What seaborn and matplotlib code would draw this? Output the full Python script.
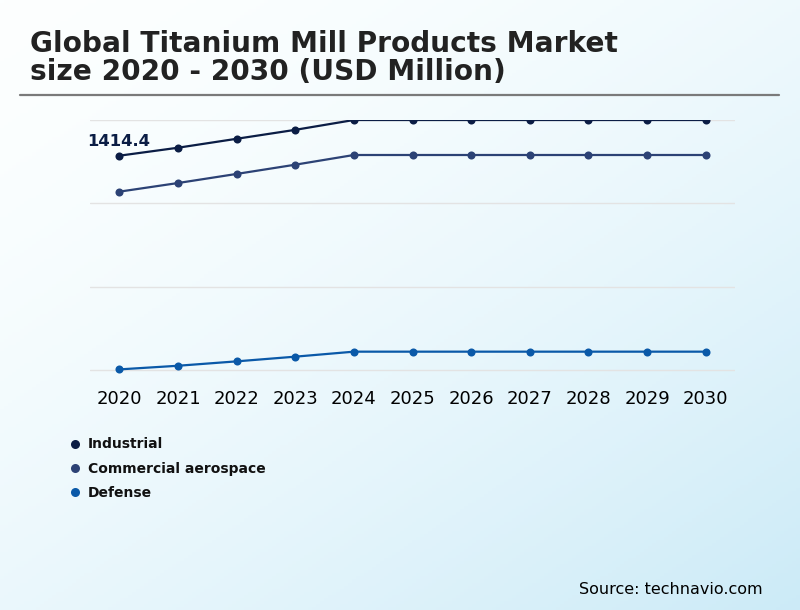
import numpy as np
import pandas as pd
import matplotlib
matplotlib.use("Agg")
import matplotlib.pyplot as plt
import seaborn as sns
from matplotlib.lines import Line2D

# -------------------------------------------------------
# Data (USD Million)
# -------------------------------------------------------

years = [2020, 2021, 2022, 2023, 2024, 2025, 2026, 2027, 2028, 2029, 2030]

industrial = [1414.4, 1467, 1526, 1585, 1650, 1650, 1650, 1650, 1650, 1650, 1650]
commercial_aerospace = [1177, 1234, 1294, 1355, 1419, 1419, 1419, 1419, 1419, 1419, 1419]
defense = [4, 28, 57, 88, 121, 121, 121, 121, 121, 121, 121]

segments = ["Industrial", "Commercial aerospace", "Defense"]
colors = ["#0b1d45", "#2c4275", "#0a59a8"]

df = pd.DataFrame({
    "year": years * 3,
    "value": industrial + commercial_aerospace + defense,
    "segment": [s for s in segments for _ in years],
})

# -------------------------------------------------------
# Figure
# -------------------------------------------------------

sns.set_theme(style="white")
plt.rcParams["font.family"] = ["DejaVu Sans"]

fig = plt.figure(figsize=(8, 6.1), dpi=100)

# gradient background: white top-left to light blue bottom-right
bg = fig.add_axes([0, 0, 1, 1], zorder=-10)
gx, gy = np.meshgrid(np.linspace(0, 1, 200), np.linspace(0, 1, 200))
t = np.clip((gx * 0.6 + gy * 0.7) / 1.3, 0, 1) ** 1.6
c0 = np.array([0.99, 1.0, 1.0])
c1 = np.array([0.80, 0.92, 0.97])
img = c0[None, None, :] * (1 - t[..., None]) + c1[None, None, :] * t[..., None]
bg.imshow(img, aspect="auto", extent=[0, 1, 0, 1], origin="upper")
bg.axis("off")

ax = fig.add_axes([90 / 800, 1 - 380 / 610, 645 / 800, 260 / 610])
ax.patch.set_alpha(0)

sns.lineplot(
    data=df,
    x="year",
    y="value",
    hue="segment",
    hue_order=segments,
    palette=colors,
    marker="o",
    markersize=5.8,
    markeredgewidth=0,
    linewidth=1.6,
    legend=False,
    ax=ax,
)

ax.set_xlim(2019.5, 2030.5)
ax.set_ylim(-66, 1650)
ax.set_yticks([0, 550, 1100, 1650])
ax.set_yticklabels([])
ax.set_xticks(years)
ax.set_xticklabels([str(y) for y in years], fontsize=13, color="black")
ax.tick_params(axis="x", length=0, pad=7.5)
ax.tick_params(axis="y", length=0)
ax.set_xlabel("")
ax.set_ylabel("")
ax.grid(axis="y", color="#e3e3e3", linewidth=1)
ax.grid(axis="x", visible=False)
for s in ax.spines.values():
    s.set_visible(False)

ax.annotate(
    f"{industrial[0]:.1f}",
    xy=(years[0], industrial[0]),
    xytext=(-23, 4.5),
    textcoords="offset points",
    fontsize=11.8,
    fontweight="bold",
    color="#0b1d45",
    ha="left",
    va="bottom",
)

# -------------------------------------------------------
# Title, rule, legend, source
# -------------------------------------------------------

fig.text(30 / 800, 1 - 52 / 610, "Global Titanium Mill Products Market",
         fontsize=20.2, fontweight="bold",
         color="#222222", ha="left", va="baseline")
fig.text(30 / 800, 1 - 80 / 610, "size 2020 - 2030 (USD Million)",
         fontsize=20.2, fontweight="bold",
         color="#222222", ha="left", va="baseline")

fig.add_artist(Line2D([20 / 800, 779 / 800], [1 - 95 / 610, 1 - 95 / 610],
                      color="#7a7a7a", linewidth=1.6))

handles = [
    Line2D([], [], marker="o", linestyle="", markersize=6.5,
           markerfacecolor=c, markeredgewidth=0)
    for c in colors
]
fig.legend(
    handles,
    segments,
    loc="upper left",
    bbox_to_anchor=(57 / 800, 1 - 425 / 610),
    frameon=False,
    handlelength=0.8,
    handletextpad=0.55,
    labelspacing=0.73,
    labelcolor="#111111",
    prop={"size": 10, "weight": "bold"},
)

fig.text(763 / 800, 1 - 594 / 610, "Source: technavio.com",
         fontsize=11.5, color="black", ha="right", va="baseline")

fig.savefig("out.png", dpi=100)
